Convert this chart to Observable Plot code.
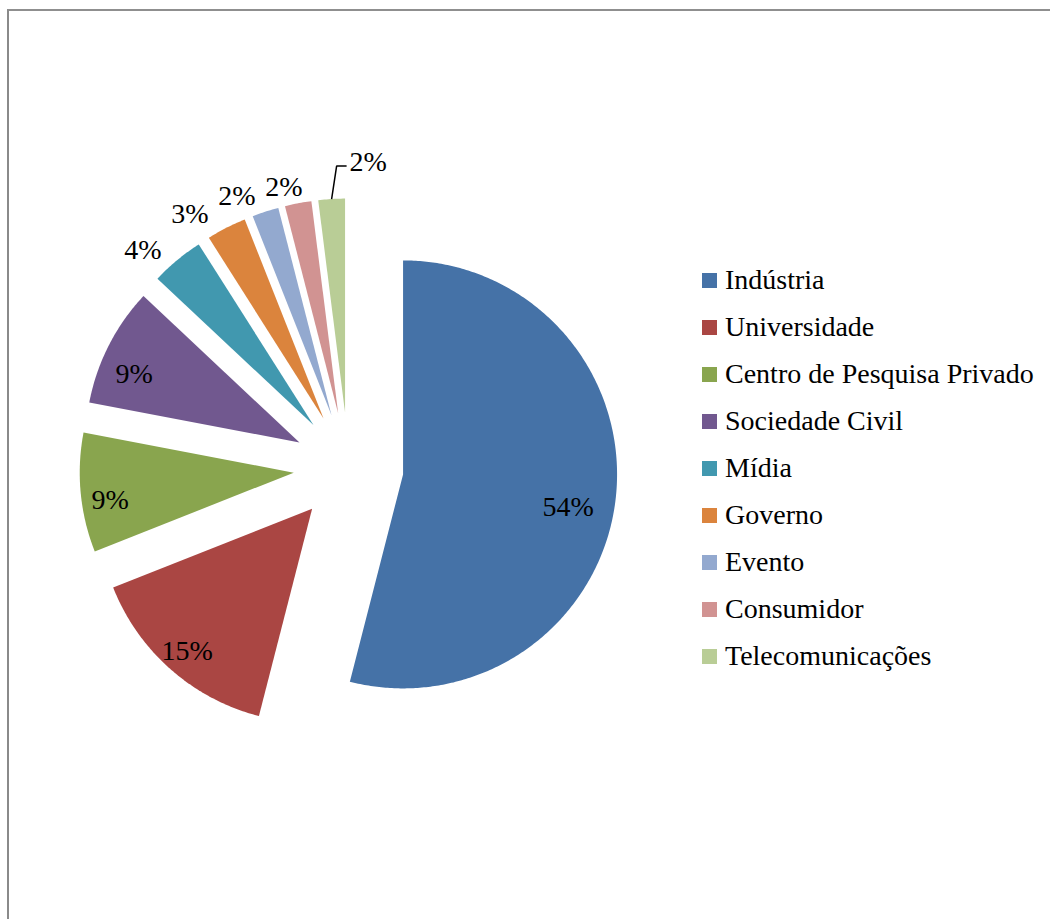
<!DOCTYPE html>
<html>
<head>
<meta charset="utf-8">
<script src="https://cdn.jsdelivr.net/npm/d3@7"></script>
<script src="https://cdn.jsdelivr.net/npm/@observablehq/plot@0.6"></script>
<style>
  html, body { margin: 0; padding: 0; background: #fff; overflow: hidden; }
  #frame {
    position: absolute; left: 7px; top: 9px; width: 1200px; height: 1100px;
    border-left: 2px solid #8a8a8a; border-top: 2.5px solid #8f8f8f;
  }
  #chart { position: absolute; left: 0; top: 0; }
  #legend {
    position: absolute; left: 702px; top: 0;
    font-family: "Liberation Serif", serif; font-size: 28px; color: #000;
  }
  .row { position: absolute; left: 0; height: 30px; display: flex; align-items: center; white-space: nowrap; }
  .sw { width: 15px; height: 15px; margin-right: 8px; flex: none; }
</style>
</head>
<body>
<div id="frame"></div>
<div id="chart"></div>
<div id="legend"></div>
<script>
// Distribution of participants by sector (%)
const categories = [
  "Indústria", "Universidade", "Centro de Pesquisa Privado", "Sociedade Civil",
  "Mídia", "Governo", "Evento", "Consumidor", "Telecomunicações"
];
const shares = [54, 15, 9, 9, 4, 3, 2, 2, 2];
const colors = [
  "#4572A7", "#AA4643", "#89A54E", "#71588F",
  "#4198AF", "#DB843D", "#93A9CF", "#D19392", "#B9CD96"
];

const W = 1050, H = 919;
const R = 214;               // pie radius in px
const cx = 348, cy = 467;    // pie centre in px
const explode = 55 / R;      // every slice is pulled out along its bisector
const minLabelGap = 47 / R;  // horizontal spacing between neighbouring outside labels
const font = "Liberation Serif, serif";

// Slices: clockwise from 12 o'clock, in pie units (radius = 1, y up)
const arcs = d3.pie().sort(null).value(d => d)(shares);
const slicePts = [];
const labels = [];
const leader = [];
arcs.forEach((a, i) => {
  const category = categories[i];
  const mid = (a.startAngle + a.endAngle) / 2;
  const ux = Math.sin(mid), uy = Math.cos(mid);
  const ox = explode * ux, oy = explode * uy;
  slicePts.push({category, x: ox, y: oy});
  const n = Math.max(2, Math.ceil((a.endAngle - a.startAngle) / 0.01));
  for (let k = 0; k <= n; ++k) {
    const t = a.startAngle + (a.endAngle - a.startAngle) * k / n;
    slicePts.push({category, x: ox + Math.sin(t), y: oy + Math.cos(t)});
  }
  const text = shares[i] + "%";
  if (i === arcs.length - 1) {
    // last slice: label pulled aside with a callout line
    const bx = ox + ux, by = oy + uy;
    const ex = bx + 5 / R, ey = by + 33 / R;
    leader.push({x: bx, y: by}, {x: ex, y: ey}, {x: ex + 10 / R, y: ey});
    labels.push({x: ex + 13 / R, y: ey + 4 / R, text, anchor: "start", outside: false});
  } else {
    const outside = shares[i] < 5;
    const r = explode + (outside ? 1.13 : 0.82);
    labels.push({x: r * ux - 9 / R, y: r * uy - 11 / R, text, anchor: "middle", outside});
  }
});

// Spread the crowded outside labels leftwards so they do not collide
const outer = labels.filter(d => d.outside);
for (let j = outer.length - 2; j >= 0; --j) {
  outer[j].x = Math.min(outer[j].x, outer[j + 1].x - minLabelGap);
}

const chart = Plot.plot({
  width: W,
  height: H,
  margin: 0,
  x: {domain: [-cx / R, (W - cx) / R], range: [0, W], axis: null},
  y: {domain: [(cy - H) / R, cy / R], range: [H, 0], axis: null},
  color: {domain: categories, range: colors},
  style: {background: "transparent", fontFamily: font},
  marks: [
    Plot.line(slicePts, {
      x: "x", y: "y", z: "category", fill: "category",
      stroke: "none", curve: "linear-closed"
    }),
    Plot.line(leader, {x: "x", y: "y", stroke: "#000", strokeWidth: 1.5, strokeLinecap: "butt", strokeLinejoin: "miter"}),
    Plot.text(labels.filter(d => d.anchor === "middle"), {
      x: "x", y: "y", text: "text", fontSize: 28, fontFamily: font, fill: "#000", textAnchor: "middle"
    }),
    Plot.text(labels.filter(d => d.anchor === "start"), {
      x: "x", y: "y", text: "text", fontSize: 28, fontFamily: font, fill: "#000", textAnchor: "start"
    })
  ]
});
document.getElementById("chart").append(chart);

// Legend: one row per sector
const legend = d3.select("#legend");
categories.forEach((c, i) => {
  const row = legend.append("div").attr("class", "row").style("top", (265 + 47 * i) + "px");
  row.append("div").attr("class", "sw").style("background", colors[i]);
  row.append("span").text(c);
});
</script>
</body>
</html>
